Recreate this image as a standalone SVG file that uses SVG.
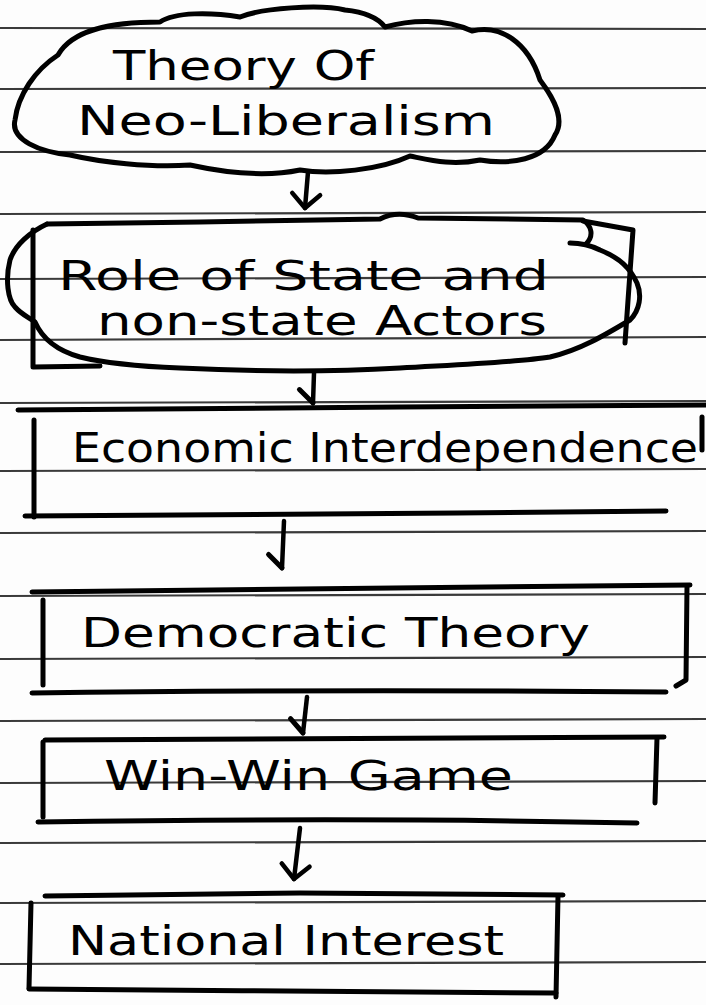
<svg xmlns="http://www.w3.org/2000/svg" width="706" height="1005" viewBox="0 0 706 1005">
<style>
.rule{stroke:#3a3a3a;stroke-width:2.2;fill:none}
.ink{stroke:#000;stroke-width:5;fill:none;stroke-linecap:round;stroke-linejoin:round}
.arrow{stroke:#000;stroke-width:4.5;fill:none;stroke-linecap:round}
.vee{marker-end:url(#vee)}
.hook{marker-end:url(#hook)}
.t{font-family:"DejaVu Sans","Liberation Sans",sans-serif;font-size:40px;fill:#000}
</style>
<defs>
<marker id="vee" markerUnits="userSpaceOnUse" markerWidth="40" markerHeight="40" viewBox="-25 -20 30 40" refX="0" refY="0" orient="auto">
<path d="M -14,-14 L 0,0 L -14,14" fill="none" stroke="#000" stroke-width="4.5" stroke-linecap="round" stroke-linejoin="round"/>
</marker>
<marker id="hook" markerUnits="userSpaceOnUse" markerWidth="40" markerHeight="40" viewBox="-25 -20 30 40" refX="0" refY="0" orient="auto">
<path d="M 0,0 L -13,14" fill="none" stroke="#000" stroke-width="5" stroke-linecap="round"/>
</marker>
</defs>
<rect width="706" height="1005" fill="#fdfdfd"/>
<g id="ruled-lines">
<path class="rule" d="M0,28 L706,29"/>
<path class="rule" d="M0,89 L706,88"/>
<path class="rule" d="M0,152 L706,151"/>
<path class="rule" d="M0,214 L706,212"/>
<path class="rule" d="M0,279 L706,277"/>
<path class="rule" d="M0,340 L706,337"/>
<path class="rule" d="M0,403 L706,401"/>
<path class="rule" d="M0,471 L706,469"/>
<path class="rule" d="M0,533 L706,531"/>
<path class="rule" d="M0,596 L706,594"/>
<path class="rule" d="M0,659 L706,657"/>
<path class="rule" d="M0,721 L706,719"/>
<path class="rule" d="M0,783 L706,781"/>
<path class="rule" d="M0,843 L706,841"/>
<path class="rule" d="M0,903 L706,901"/>
<path class="rule" d="M0,964 L706,962"/>
</g>
<g id="node-neoliberalism">
<path class="ink" d="M58,55 C72,30 110,22 160,22 C175,12 210,12 240,17 C262,8 320,4 345,10 C365,12 378,18 385,27 C410,20 445,18 472,31 C500,24 528,42 540,80 C555,100 565,120 555,135 C545,160 510,165 480,160 C452,166 430,160 410,156 C380,170 330,175 300,170 C262,178 222,172 190,165 C150,168 100,162 70,155 C40,152 10,140 15,120 C18,95 35,70 58,55 Z"/>
<text class="t" x="113" y="80" font-size="38" textLength="261" lengthAdjust="spacingAndGlyphs">Theory Of</text>
<text class="t" x="77" y="135" font-size="42" textLength="418" lengthAdjust="spacingAndGlyphs">Neo-Liberalism</text>
</g>
<g id="node-actors">
<path class="ink" d="M33,230 L33,367 L100,366"/>
<path class="ink" d="M583,221 L633,230 L625,343"/>
<path class="ink" d="M47,224 L200,222 L380,219 C392,213 405,213 418,218 L583,220 C592,226 594,236 586,244"/>
<path class="ink" d="M47,224 C30,232 15,245 10,260 C5,280 8,300 15,307 C22,315 30,318 35,322 C42,338 55,350 80,357 C100,362 130,366 180,368 C260,372 330,372 400,368 C470,364 520,362 550,357 C580,350 605,335 630,320 C640,310 642,295 637,283 C630,268 620,258 600,250 C590,245 580,243 570,243"/>
<text class="t" x="58" y="290" textLength="491" lengthAdjust="spacingAndGlyphs">Role of State and</text>
<text class="t" x="97" y="335" textLength="450" lengthAdjust="spacingAndGlyphs">non-state Actors</text>
</g>
<g id="node-economic">
<path class="ink" d="M18,410 L400,407 L706,405"/>
<path class="ink" d="M34,420 L34,517"/>
<path class="ink" d="M25,516 C200,514 450,514 666,511"/>
<path class="ink" d="M702,417 L702,450"/>
<text class="t" x="72" y="462" textLength="626" lengthAdjust="spacingAndGlyphs">Economic Interdependence</text>
</g>
<g id="node-democratic">
<path class="ink" d="M32,592 L300,589 L690,585"/>
<path class="ink" d="M43,600 L43,685"/>
<path class="ink" d="M687,586 L686,680 L676,686"/>
<path class="ink" d="M32,693 C250,690 450,690 666,692"/>
<text class="t" x="81" y="647" textLength="509" lengthAdjust="spacingAndGlyphs">Democratic Theory</text>
</g>
<g id="node-winwin">
<path class="ink" d="M45,740 L664,737"/>
<path class="ink" d="M43,742 L43,817"/>
<path class="ink" d="M657,738 L655,803"/>
<path class="ink" d="M38,822 C250,819 450,819 637,823"/>
<text class="t" x="104" y="790" font-size="38" textLength="409" lengthAdjust="spacingAndGlyphs">Win-Win Game</text>
</g>
<g id="node-national">
<path class="ink" d="M45,896 L300,893 L563,895"/>
<path class="ink" d="M31,903 L29,988"/>
<path class="ink" d="M558,896 L556,997"/>
<path class="ink" d="M29,989 C200,991 400,991 556,993"/>
<text class="t" x="68" y="955" textLength="436" lengthAdjust="spacingAndGlyphs">National Interest</text>
</g>
<g id="connectors">
<path class="arrow vee" d="M308,172 L305,208"/>
<path class="arrow hook" d="M314,373 L313,403"/>
<path class="arrow hook" d="M284,521 L282,568"/>
<path class="arrow hook" d="M307,697 L303,733"/>
<path class="arrow vee" d="M300,828 L294,879"/>
</g>
</svg>
